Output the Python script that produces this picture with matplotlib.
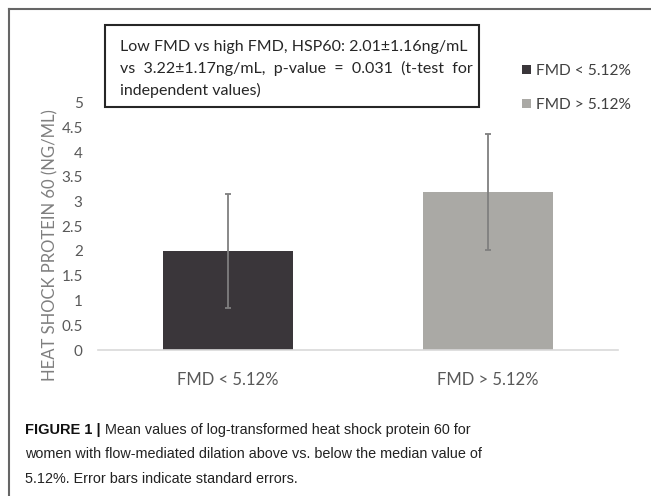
import matplotlib.pyplot as plt
from matplotlib.patches import Rectangle

groups = ['FMD < 5.12%', 'FMD > 5.12%']
means = [2.0, 3.2]
errors = [1.16, 1.17]
bar_colors = ['#3a363a', '#aaa9a5']
y_ticks = [0, 0.5, 1, 1.5, 2, 2.5, 3, 3.5, 4, 4.5, 5]
y_tick_labels = ['0', '0.5', '1', '1.5', '2', '2.5', '3', '3.5', '4', '4.5', '5']
box_lines = ['Low FMD vs high FMD, HSP60: 2.01\u00b11.16ng/mL',
             'vs  3.22\u00b11.17ng/mL,  p-value  =  0.031  (t-test  for',
             'independent values)']
caption_lines = ['Mean values of log-transformed heat shock protein 60 for',
                 'women with flow-mediated dilation above vs. below the median value of',
                 '5.12%. Error bars indicate standard errors.']

chart_font = ['Lato', 'DejaVu Sans']
caption_font = ['Liberation Sans', 'DejaVu Sans']

W, H = 651, 496
fig = plt.figure(figsize=(W / 100, H / 100), dpi=100)
ax = fig.add_axes([98 / W, 1 - 350 / H, 520 / W, 247.5 / H])

for i, g in enumerate(groups):
    ax.bar(i, means[i], width=0.5, color=bar_colors[i], label=g, zorder=2)
    ax.errorbar(i, means[i], yerr=errors[i], fmt='none', ecolor='#7f7f7f',
                elinewidth=1.3, capsize=2.5, capthick=1.3, zorder=3)

ax.set_xlim(-0.5, 1.5)
ax.set_ylim(0, 5)
ax.set_yticks(y_ticks)
ax.set_yticklabels(y_tick_labels, fontfamily=chart_font, fontsize=11, color='#595959')
ax.set_xticks(range(len(groups)))
ax.set_xticklabels(groups, fontfamily=chart_font, fontsize=12, color='#595959')
ax.tick_params(axis='y', length=0, pad=11)
ax.tick_params(axis='x', length=0, pad=16)
for s in ['top', 'right', 'left']:
    ax.spines[s].set_visible(False)
ax.spines['bottom'].set_color('#d9d9d9')
ax.spines['bottom'].set_linewidth(1.2)

fig.text(50 / W, 1 - 245 / H, 'HEAT SHOCK PROTEIN 60 (NG/ML)', rotation=90,
         ha='center', va='center', fontfamily=chart_font, fontsize=12, color='#7f7f7f')

leg = fig.legend(loc='upper left', bbox_to_anchor=(522 / W, 1 - 64 / H), frameon=False,
                 prop={'family': chart_font, 'size': 11.2}, handlelength=0.55,
                 handleheight=0.55, handletextpad=0.35, labelspacing=1.3,
                 borderpad=0, borderaxespad=0)
for t in leg.get_texts():
    t.set_color('#404040')

# annotation box
fig.patches.append(Rectangle((105 / W, 1 - 107 / H), 374 / W, 82 / H, transform=fig.transFigure,
                             fill=False, edgecolor='#262626', linewidth=1.5))
for k, line in enumerate(box_lines):
    fig.text(120 / W, 1 - (51 + 22 * k) / H, line, ha='left', va='baseline',
             fontfamily=chart_font, fontsize=11.5, color='#262626')

# outer frame
fig.add_artist(plt.Line2D([9 / W, 1], [1 - 8.5 / H, 1 - 8.5 / H], transform=fig.transFigure,
                          color='#666666', linewidth=1.5))
fig.add_artist(plt.Line2D([9 / W, 9 / W], [0, 1 - 8.5 / H], transform=fig.transFigure,
                          color='#666666', linewidth=1.5))

# caption
head = fig.text(25 / W, 1 - 434 / H, 'FIGURE 1 |', ha='left', va='baseline',
                fontfamily=caption_font, fontsize=10.5, fontweight='bold', color='#111111')
fig.canvas.draw()
head_right = head.get_window_extent().x1
fig.text(head_right / W + 4 / W, 1 - 434 / H, caption_lines[0], ha='left', va='baseline',
         fontfamily=caption_font, fontsize=10.4, color='#222222')
for k, line in enumerate(caption_lines[1:]):
    fig.text(25 / W, 1 - (458.5 + 24.5 * k) / H, line, ha='left', va='baseline',
             fontfamily=caption_font, fontsize=10.4, color='#222222')

fig.savefig('out.png', dpi=100)
